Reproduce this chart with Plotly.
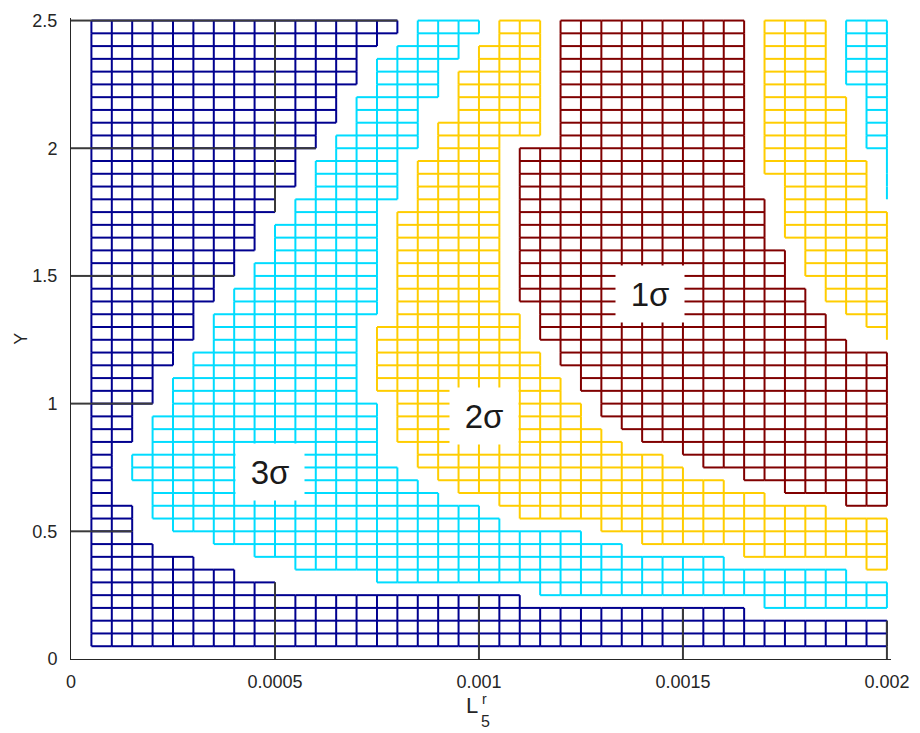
import plotly.graph_objects as go

# grid of nodes: x = 0.00005 ... 0.002, Y = 0.05 ... 2.5
X_STEP = 0.00005
Y_STEP = 0.05
x_nodes = [k * X_STEP for k in range(1, 41)]
y_nodes = [k * Y_STEP for k in range(1, 51)]

# confidence level of every node, run-length coded, top row (Y = 2.5) first
# b = beyond 3 sigma, c = 3 sigma, y = 2 sigma, r = 1 sigma, . = no node
level_rows = [
    "b16 c4 y3 r10 y4 c3",
    "b16 c4 y3 r10 y4 c3",
    "b15 c4 y4 r10 y4 c3",
    "b14 c5 y4 r10 y4 c3",
    "b14 c4 y5 r10 y4 c3",
    "b14 c4 y5 r10 y4 c3",
    "b13 c5 y5 r10 y5 c2",
    "b13 c4 .1 y5 r10 y5 c2",
    "b13 c4 y6 r10 y5 c2",
    "b12 c5 y6 r10 y5 c2",
    "b12 c5 y4 r12 y5 c2",
    "b11 c5 y5 r12 y6 c1",
    "b11 c5 y5 r12 y6 c1",
    "b11 c5 y5 r12 .1 y5 c1",
    "b10 c6 y5 r13 y5 c1",
    "b10 c5 y6 r13 y6",
    "b9 c6 y6 r13 y6",
    "b9 c6 y6 r13 y6",
    "b9 c6 y6 r14 y5",
    "b8 c7 y6 r14 y5",
    "b8 c7 y6 r14 y5",
    "b7 c8 y6 r15 y4",
    "b7 c8 y6 r15 y4",
    "b6 c9 y7 r15 y3",
    "b6 c8 y8 r15 .1 y2",
    "b6 c8 y8 r16 .1 y1",
    "b5 c9 y9 r17",
    "b5 c9 y9 r17",
    "b4 c10 y10 r16",
    "b4 c10 y10 r16",
    "b4 c11 y10 r15",
    "b3 c12 y10 r15",
    "b3 c12 y11 r14",
    "b3 c12 y12 r13",
    "b2 c13 .1 y13 r11",
    "b2 c14 y14 r10",
    "b2 c15 y15 r8",
    "b2 .1 c15 y16 r6",
    "b3 c17 y17 r3",
    "b3 c18 y19",
    "b3 .1 c21 y15",
    "b4 .2 c21 y13",
    "b6 .2 c24 y8",
    "b8 .2 c28 y2",
    "b10 .4 c26",
    "b22 c18",
    "b33 c7",
    "b40",
    "b40",
    "b40",
]

level_colors = {"b": "#00008f", "c": "#00dcff", "y": "#ffcd00", "r": "#800000"}
tick_line_color = "#3a3a3a"

x_ticks = [0, 0.0005, 0.001, 0.0015, 0.002]
x_tick_text = ["0", "0.0005", "0.001", "0.0015", "0.002"]
y_ticks = [0, 0.5, 1, 1.5, 2, 2.5]
y_tick_text = ["0", "0.5", "1", "1.5", "2", "2.5"]

region_labels = ["1σ", "2σ", "3σ"]
label_x = [0.00142, 0.001013, 0.000489]
label_y = [1.43, 0.953, 0.733]

FONT = "Liberation Sans, Arial, sans-serif"
TEXT_COLOR = "#262626"


def expand(runs):
    out = ""
    for tok in runs.split():
        out += tok[0] * int(tok[1:])
    assert len(out) == len(x_nodes), runs
    return out


# grid[j][i]: node at x_nodes[i], y_nodes[j]
grid = [expand(r) for r in level_rows][::-1]
n_x, n_y = len(x_nodes), len(y_nodes)

# mesh edges joining neighbouring nodes of the same level
edges = {k: ([], []) for k in level_colors}
for j in range(n_y):
    for i in range(n_x):
        lv = grid[j][i]
        if lv not in level_colors:
            continue
        xs, ys = edges[lv]
        if i + 1 < n_x and grid[j][i + 1] == lv:
            xs += [x_nodes[i], x_nodes[i + 1], None]
            ys += [y_nodes[j], y_nodes[j], None]
        if j + 1 < n_y and grid[j + 1][i] == lv:
            xs += [x_nodes[i], x_nodes[i], None]
            ys += [y_nodes[j], y_nodes[j + 1], None]


def on_tick(v, ticks):
    return any(abs(v - t) < 1e-12 for t in ticks)


# outer-region edges lying on tick lines, plus the short links to the axes
tx, ty = [], []
for j in range(n_y):
    if not on_tick(y_nodes[j], y_ticks):
        continue
    if grid[j][0] == "b":
        tx += [0, x_nodes[0], None]
        ty += [y_nodes[j], y_nodes[j], None]
    for i in range(n_x - 1):
        if grid[j][i] == "b" and grid[j][i + 1] == "b":
            tx += [x_nodes[i], x_nodes[i + 1], None]
            ty += [y_nodes[j], y_nodes[j], None]
for i in range(n_x):
    if not on_tick(x_nodes[i], x_ticks):
        continue
    if grid[0][i] == "b":
        tx += [x_nodes[i], x_nodes[i], None]
        ty += [0, y_nodes[0], None]
    for j in range(n_y - 1):
        if grid[j][i] == "b" and grid[j + 1][i] == "b":
            tx += [x_nodes[i], x_nodes[i], None]
            ty += [y_nodes[j], y_nodes[j + 1], None]

fig = go.Figure()
for lv, color in level_colors.items():
    xs, ys = edges[lv]
    fig.add_trace(go.Scatter(x=xs, y=ys, mode="lines",
                             line=dict(color=color, width=2),
                             hoverinfo="skip", showlegend=False))
fig.add_trace(go.Scatter(x=tx, y=ty, mode="lines",
                         line=dict(color=tick_line_color, width=2),
                         hoverinfo="skip", showlegend=False))

for text, lx, ly in zip(region_labels, label_x, label_y):
    fig.add_annotation(x=lx, y=ly, text=text, showarrow=False,
                       font=dict(family=FONT, size=33, color="#1a1a1a"),
                       bgcolor="white", width=64, height=52, borderpad=2)

# axis titles: L with stacked super/subscript, and Y
fig.add_annotation(xref="paper", yref="paper", x=0.4895, y=-0.072,
                   text="L", showarrow=False, xanchor="center", yanchor="middle",
                   borderpad=0, font=dict(family=FONT, size=22, color=TEXT_COLOR))
fig.add_annotation(xref="paper", yref="paper", x=0.5046, y=-0.062,
                   text="r", showarrow=False, xanchor="center", yanchor="middle",
                   borderpad=0, font=dict(family=FONT, size=14, color=TEXT_COLOR))
fig.add_annotation(xref="paper", yref="paper", x=0.5052, y=-0.097,
                   text="5", showarrow=False, xanchor="center", yanchor="middle",
                   borderpad=0, font=dict(family=FONT, size=16, color=TEXT_COLOR))
fig.add_annotation(xref="paper", yref="paper", x=-0.062, y=0.50,
                   text="Y", showarrow=False, textangle=-90,
                   xanchor="center", yanchor="middle",
                   font=dict(family=FONT, size=18, color=TEXT_COLOR))

fig.update_layout(
    width=920, height=733,
    margin=dict(l=71, r=24, t=11, b=74),
    paper_bgcolor="white", plot_bgcolor="white",
    font=dict(family=FONT, size=18, color=TEXT_COLOR),
    showlegend=False,
)
fig.update_xaxes(
    range=[0, 0.00201], tickvals=x_ticks, ticktext=x_tick_text,
    showgrid=False, zeroline=False, showline=True,
    linecolor="#262626", linewidth=1, ticks="", ticklabelstandoff=6,
    tickfont=dict(family=FONT, size=18, color=TEXT_COLOR),
)
fig.update_yaxes(
    range=[0, 2.51], tickvals=y_ticks, ticktext=y_tick_text,
    showgrid=False, zeroline=False, showline=True,
    linecolor="#262626", linewidth=1, ticks="", ticklabelstandoff=9,
    tickfont=dict(family=FONT, size=18, color=TEXT_COLOR),
)

fig.write_html("out.html")
